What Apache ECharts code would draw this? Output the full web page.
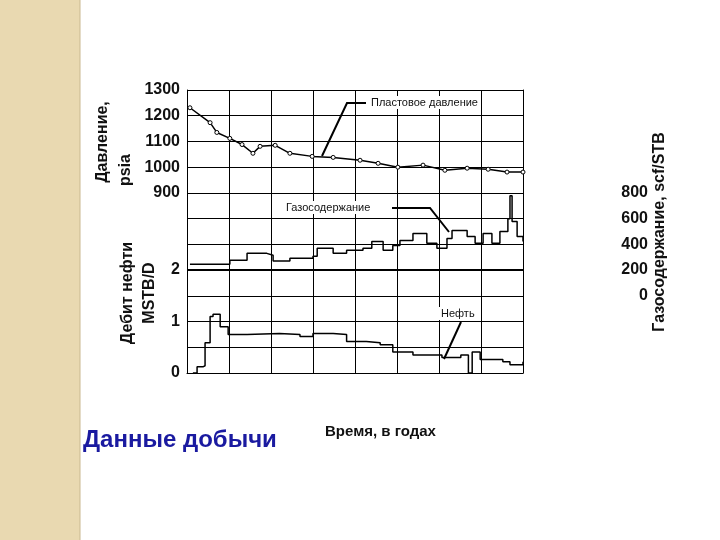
<!DOCTYPE html>
<html><head><meta charset="utf-8">
<script src="https://cdn.jsdelivr.net/npm/echarts@6/dist/echarts.min.js"></script>
<style>html,body{margin:0;padding:0;background:#fff}#c{width:720px;height:540px}</style>
</head><body><div id="c"></div>
<script>
const pressure = [[0.07,1231],[0.55,1173],[0.71,1135],[1.02,1112],[1.31,1088],[1.57,1054],[1.74,1081],[2.1,1085],[2.45,1054],[2.98,1042],[3.48,1038],[4.12,1027],[4.55,1015],[5.02,1000],[5.62,1008],[6.14,988],[6.67,996],[7.17,992],[7.62,981],[8,981]];
const gasRatio = [[0.07,246],[0.86,246],[1.02,277],[1.43,330],[1.9,315],[2.05,270],[2.45,292],[3,308],[3.1,370],[3.48,330],[3.8,354],[4.19,370],[4.4,423],[4.67,354],[4.9,392],[5.07,430],[5.38,485],[5.71,408],[5.95,370],[6.19,446],[6.31,508],[6.67,462],[6.86,408],[7.05,485],[7.26,408],[7.45,500],[7.64,600],[7.69,777],[7.74,577],[7.86,462],[8,423]];
const oilRate = [[0.14,0],[0.24,0.12],[0.38,0.14],[0.43,0.59],[0.5,0.59],[0.55,1.1],[0.62,1.14],[0.79,0.9],[0.98,0.75],[1.43,0.77],[2.2,0.75],[2.69,0.71],[3,0.77],[3.48,0.75],[3.8,0.61],[4.27,0.59],[4.6,0.55],[4.9,0.41],[5.38,0.35],[6.07,0.3],[6.52,0.35],[6.7,0],[6.79,0.41],[6.98,0.26],[7.52,0.22],[7.69,0.16],[7.93,0.16],[8,0.22]];
const pressureTicks = [900,1000,1100,1200,1300];
const oilTicks = [0,1,2];
const gasTicks = [0,200,400,600,800];

const lab = {fontFamily:'Liberation Sans',fontWeight:'bold',fontSize:16,color:'#111'};
const chart = echarts.init(document.getElementById('c'));
chart.setOption({
  animation:false,
  grid:{left:187,right:197,top:90,bottom:167},
  xAxis:{type:'value',min:0,max:8,interval:1,axisLabel:{show:false},axisTick:{show:false},
    axisLine:{lineStyle:{color:'#000'}},splitLine:{lineStyle:{color:'#000',width:1}}},
  yAxis:[
    {type:'value',min:200,max:1300,interval:100,position:'left',
     axisLine:{show:true,lineStyle:{color:'#000'}},axisTick:{show:false},
     splitLine:{lineStyle:{color:'#000'}},
     axisLabel:Object.assign({margin:7,formatter:v=>pressureTicks.includes(v)?String(v):''},lab)},
    {type:'value',min:0,max:5.5,interval:0.5,position:'left',
     axisLine:{show:false},axisTick:{show:false},splitLine:{show:false},
     axisLabel:Object.assign({margin:7,formatter:v=>oilTicks.includes(v)?String(v):''},lab)},
    {type:'value',min:-600,max:1600,interval:200,position:'right',
     axisLine:{show:true,lineStyle:{color:'#000'}},axisTick:{show:false},splitLine:{show:false},
     axisLabel:Object.assign({margin:125,align:'right',formatter:v=>gasTicks.includes(v)?String(v):''},lab)}
  ],
  series:[
    {type:'line',yAxisIndex:0,data:pressure,symbol:'circle',symbolSize:4,
     itemStyle:{color:'#fff',borderColor:'#000',borderWidth:1},lineStyle:{color:'#000',width:1.5}},
    {type:'line',yAxisIndex:2,data:gasRatio,step:'end',symbol:'none',lineStyle:{color:'#000',width:1.5}},
    {type:'line',yAxisIndex:1,data:oilRate,step:'end',symbol:'none',lineStyle:{color:'#000',width:1.5},
     markLine:{silent:true,symbol:'none',label:{show:false},lineStyle:{color:'#000',width:2,type:'solid'},data:[{yAxis:2}]}}
  ],
  graphic:[
    {type:'rect',left:0,top:0,shape:{width:80,height:540},style:{fill:'#e9d9b1'},z:-1},
    {type:'line',shape:{x1:80,y1:0,x2:80,y2:540},style:{stroke:'#c9b890',lineWidth:1}},
    {type:'text',x:95,y:142,rotation:Math.PI/2,style:{text:'Давление,',font:'bold 16px Liberation Sans',fill:'#111',align:'center',verticalAlign:'top'}},
    {type:'text',x:118,y:170,rotation:Math.PI/2,style:{text:'psia',font:'bold 16px Liberation Sans',fill:'#111',align:'center',verticalAlign:'top'}},
    {type:'text',x:120,y:293,rotation:Math.PI/2,style:{text:'Дебит нефти',font:'bold 16px Liberation Sans',fill:'#111',align:'center',verticalAlign:'top'}},
    {type:'text',x:142,y:293,rotation:Math.PI/2,style:{text:'MSTB/D',font:'bold 16px Liberation Sans',fill:'#111',align:'center',verticalAlign:'top'}},
    {type:'text',x:652,y:232,rotation:Math.PI/2,style:{text:'Газосодержание, scf/STB',font:'bold 16px Liberation Sans',fill:'#111',align:'center',verticalAlign:'top'}},
    {type:'text',x:83,y:428,style:{text:'Данные добычи',font:'bold 24px Liberation Sans',fill:'#1a1aa0'}},
    {type:'text',x:325,y:424,style:{text:'Время, в годах',font:'bold 15px Liberation Sans',fill:'#111'}},
    {type:'polyline',shape:{points:[[322,156],[347,103],[366,103]]},style:{stroke:'#000',lineWidth:2,fill:null},z:10},
    {type:'text',x:368,y:96,style:{text:'Пластовое давление',font:'11px Liberation Sans',fill:'#111',backgroundColor:'#fff',padding:[1,3]},z:10},
    {type:'polyline',shape:{points:[[392,208],[430,208],[449,232]]},style:{stroke:'#000',lineWidth:2,fill:null},z:10},
    {type:'text',x:283,y:201,style:{text:'Газосодержание',font:'11px Liberation Sans',fill:'#111',backgroundColor:'#fff',padding:[1,3]},z:10},
    {type:'line',shape:{x1:461,y1:322,x2:444,y2:359},style:{stroke:'#000',lineWidth:2},z:10},
    {type:'text',x:438,y:307,style:{text:'Нефть',font:'11px Liberation Sans',fill:'#111',backgroundColor:'#fff',padding:[1,3]},z:10}
  ]
});
</script></body></html>
